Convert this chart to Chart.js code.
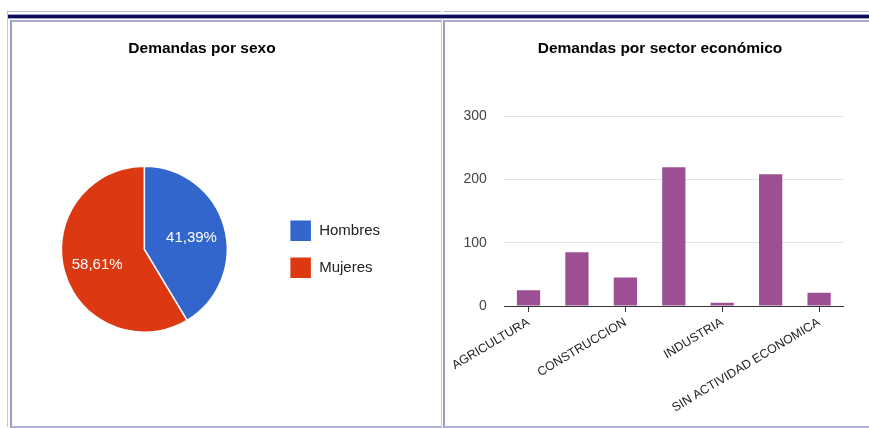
<!DOCTYPE html>
<html>
<head>
<meta charset="utf-8">
<script src="https://cdn.jsdelivr.net/npm/chart.js@4.4.1/dist/chart.umd.min.js"></script>
<style>
  body { margin: 0; background: #fff; overflow: hidden; width: 869px; height: 428px; position: relative; }
  .line { position: absolute; top: 11px; height: 1px; background: #b4b4d6; }
  .band { position: absolute; left: 7px; right: 0; top: 14px; height: 3px; background: #0b0b5c;
          border-top: 1px solid #a0a0cc; border-bottom: 1px solid #a0a0cc; }
  .frame { position: absolute; left: 7px; top: 12px; width: 1px; height: 415px; background: #c4c4e0; }
  .panel { position: absolute; top: 20px; box-sizing: border-box;
           border-left: 2px solid #9a9ac6; border-top: 2px solid #a8a8d0;
           border-right: 1px solid #c8c8e2; border-bottom: 2px solid #b0b0d8; }
  #p1 { left: 10px; width: 432px; height: 408px; }
  #p2 { left: 443px; width: 440px; height: 408px; }
  canvas { position: absolute; }
  #pie { left: 12px; top: 22px; }
  #bars { left: 445px; top: 22px; }
</style>
</head>
<body>
<div class="line" style="left:7px; width:434px"></div>
<div class="line" style="left:444px; right:0"></div>
<div class="band"></div>
<div class="frame"></div>
<div class="panel" id="p1"></div>
<div class="panel" id="p2"></div>
<canvas id="pie" width="428" height="403"></canvas>
<canvas id="bars" width="430" height="403"></canvas>
<script>
  // data
  var sexLabels = ['Hombres', 'Mujeres'];
  var sexValues = [250, 354];
  var sexColors = ['#3366cc', '#dc3912'];

  var sectorLabels = ['AGRICULTURA', 'COMERCIO', 'CONSTRUCCION', 'GOBIERNO', 'INDUSTRIA', 'SERVICIOS', 'SIN ACTIVIDAD ECONOMICA'];
  var sectorValues = [25, 85, 45, 219, 5, 208, 21];
  var yTicks = [0, 100, 200, 300];

  var family = 'Arial, "Liberation Sans", sans-serif';

  // percentage text inside the slices
  var sliceLabels = {
    id: 'sliceLabels',
    afterDatasetsDraw: function (chart) {
      var ctx = chart.ctx;
      var data = chart.data.datasets[0].data;
      var total = data.reduce(function (a, b) { return a + b; }, 0);
      ctx.save();
      ctx.font = '15px ' + family;
      ctx.fillStyle = '#fff';
      ctx.textAlign = 'center';
      ctx.textBaseline = 'middle';
      chart.getDatasetMeta(0).data.forEach(function (arc, i) {
        var p = arc.getProps(['x', 'y', 'startAngle', 'endAngle', 'outerRadius'], true);
        var mid = (p.startAngle + p.endAngle) / 2;
        var r = p.outerRadius * 0.59;
        var txt = (data[i] / total * 100).toFixed(2).replace('.', ',') + '%';
        ctx.fillText(txt, p.x + Math.cos(mid) * r, p.y + Math.sin(mid) * r + 2);
      });
      ctx.restore();
    }
  };

  new Chart(document.getElementById('pie'), {
    type: 'pie',
    data: {
      labels: sexLabels,
      datasets: [{ data: sexValues, backgroundColor: sexColors, borderColor: '#fff', borderWidth: 1.5 }]
    },
    options: {
      responsive: false,
      animation: false,
      layout: { padding: { left: 2, right: 50, top: 0, bottom: 92 } },
      plugins: {
        title: {
          display: true, text: 'Demandas por sexo', color: '#000',
          font: { size: 15.5, weight: 'bold', family: family },
          padding: { top: 17, bottom: 108 }
        },
        legend: {
          position: 'right',
          fullSize: false,
          labels: { boxWidth: 22, boxHeight: 22, padding: 15, color: '#222', font: { size: 15, family: family } }
        },
        tooltip: { enabled: false }
      }
    },
    plugins: [sliceLabels]
  });

  new Chart(document.getElementById('bars'), {
    type: 'bar',
    data: {
      labels: sectorLabels,
      datasets: [{ data: sectorValues, backgroundColor: '#9c4f92', categoryPercentage: 1, barPercentage: 0.48 }]
    },
    options: {
      responsive: false,
      animation: false,
      layout: { padding: 0 },
      plugins: {
        legend: { display: false },
        tooltip: { enabled: false },
        title: {
          display: true, text: 'Demandas por sector económico', color: '#000',
          font: { size: 15.5, weight: 'bold', family: family },
          padding: { top: 17, bottom: 58.4 }
        }
      },
      scales: {
        x: {
          offset: true,
          grid: {
            offset: false, drawOnChartArea: false, tickLength: 6,
            color: function (c) { return c.index % 2 === 0 ? '#333' : 'rgba(0,0,0,0)'; }
          },
          border: { color: '#333' },
          ticks: {
            autoSkip: false, maxRotation: 31, minRotation: 31, color: '#222',
            font: { size: 12.4, family: family },
            callback: function (v, i) { return i % 2 === 0 ? this.getLabelForValue(v) : ''; }
          },
          afterFit: function (s) { s.height = 119; }
        },
        y: {
          min: 0, max: 300,
          afterBuildTicks: function (s) { s.ticks = yTicks.map(function (v) { return { value: v }; }); },
          grid: {
            drawTicks: false,
            color: function (c) { return c.tick && c.tick.value === 0 ? '#333' : '#e2e2e2'; }
          },
          border: { display: false },
          ticks: { padding: 17.5, color: '#444', font: { size: 14, family: family } },
          afterFit: function (s) { s.width = 59.3; }
        },
        // empty right margin of the plot
        spacer: {
          type: 'linear', position: 'right',
          grid: { display: false }, border: { display: false }, ticks: { display: false },
          afterFit: function (s) { s.width = 31.7; }
        }
      }
    }
  });
</script>
</body>
</html>
